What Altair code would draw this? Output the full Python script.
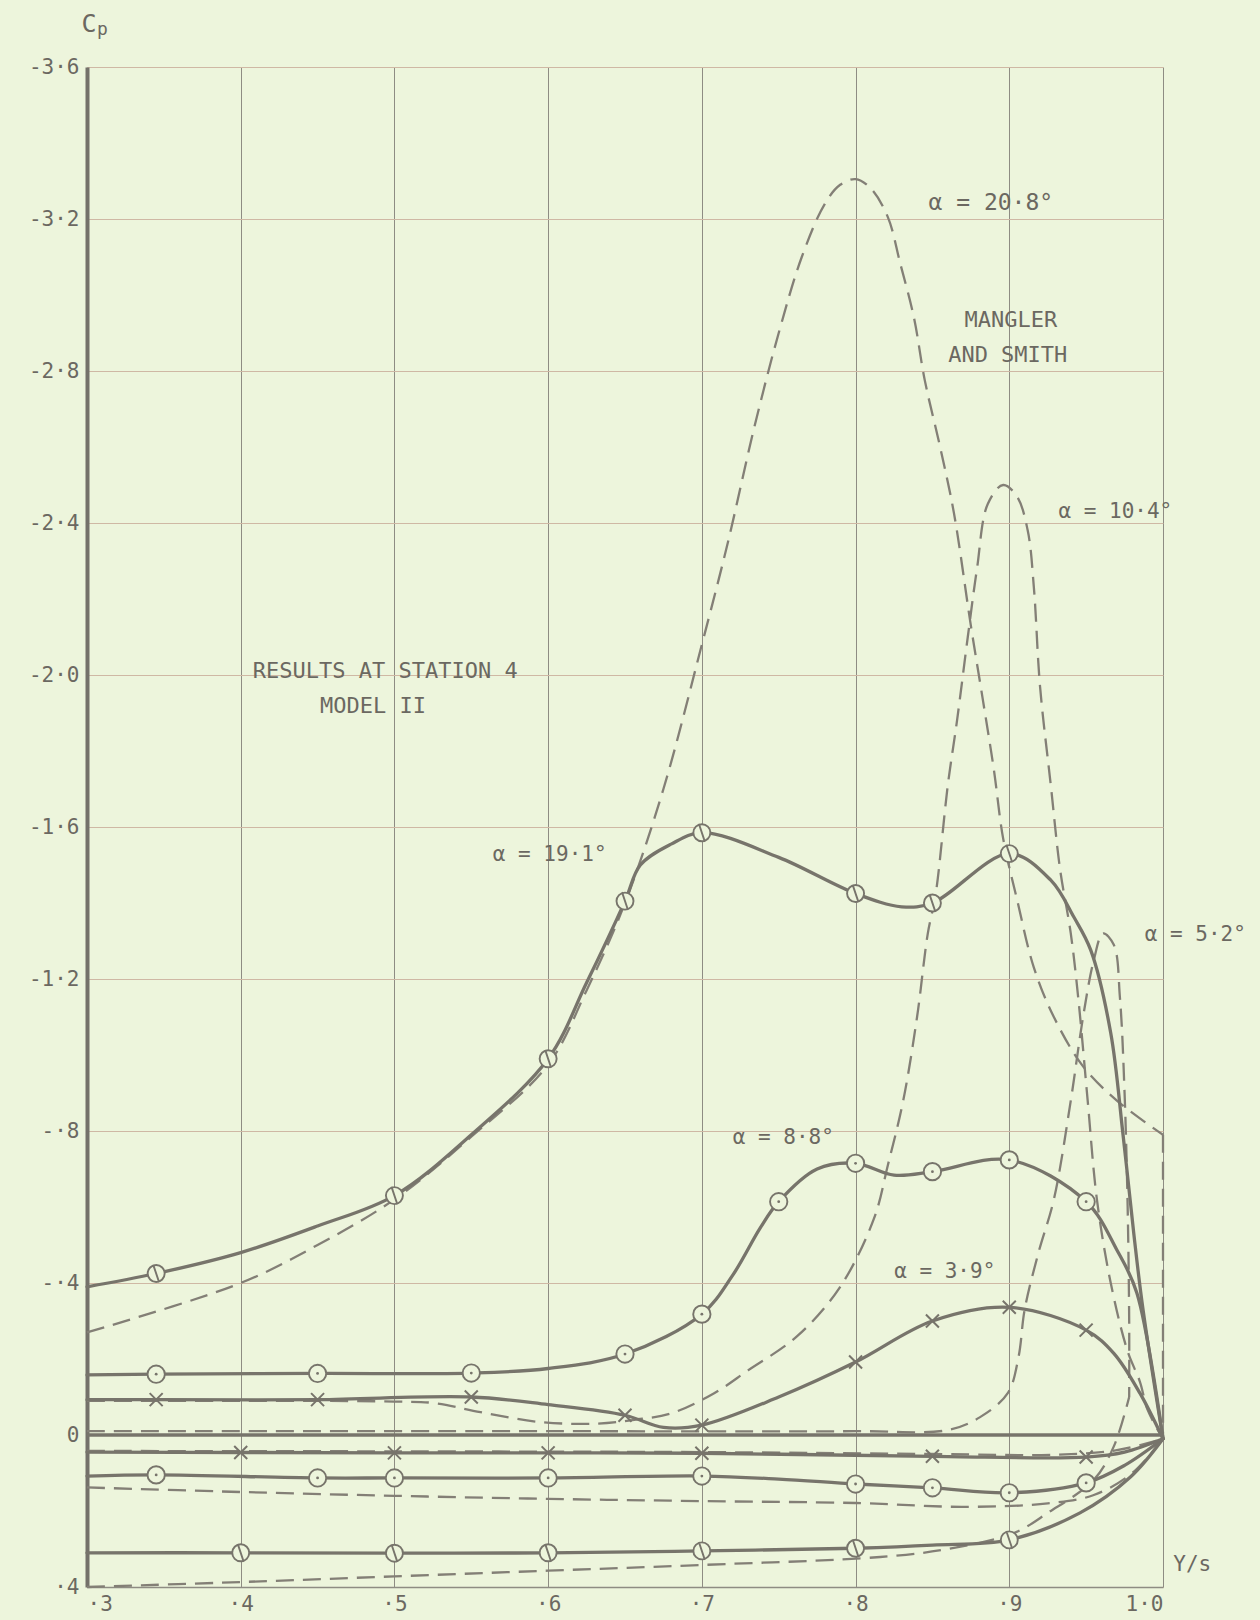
import altair as alt
import pandas as pd

BG = "#edf5dc"
INK = "#77746b"
TXT = "#6b6861"
FONT = "DejaVu Sans Mono"

# ---------------- axis ticks ----------------
x_tick_values = [0.3, 0.4, 0.5, 0.6, 0.7, 0.8, 0.9, 1.0]
x_tick_labels = ["·3", "·4", "·5", "·6", "·7", "·8", "·9", "1·0"]
y_tick_values = [-3.6, -3.2, -2.8, -2.4, -2.0, -1.6, -1.2, -0.8, -0.4, 0.0, 0.4]
y_tick_labels = ["-3·6", "-3·2", "-2·8", "-2·4", "-2·0", "-1·6", "-1·2", "-·8", "-·4", "0", "·4"]

# ---------------- experimental curves (solid) ----------------
# alpha = 19.1 deg, upper surface
e191u_x = [0.30, 0.345, 0.40, 0.45, 0.50, 0.55, 0.60, 0.625, 0.65, 0.66, 0.68, 0.70, 0.75, 0.80, 0.83, 0.85, 0.90, 0.927, 0.942, 0.953, 0.966, 0.974, 0.981, 0.987, 1.0]
e191u_y = [-0.39, -0.425, -0.48, -0.55, -0.63, -0.79, -0.99, -1.19, -1.405, -1.50, -1.555, -1.585, -1.52, -1.425, -1.39, -1.40, -1.53, -1.46, -1.363, -1.276, -1.058, -0.79, -0.53, -0.33, 0.01]
e191u_marks = [0.345, 0.50, 0.60, 0.65, 0.70, 0.80, 0.85, 0.90]

# alpha = 8.8 deg, upper surface
e88u_x = [0.30, 0.345, 0.45, 0.55, 0.60, 0.65, 0.70, 0.72, 0.738, 0.75, 0.775, 0.80, 0.825, 0.85, 0.90, 0.95, 0.97, 0.983, 1.0]
e88u_y = [-0.158, -0.16, -0.162, -0.163, -0.175, -0.213, -0.318, -0.42, -0.545, -0.614, -0.70, -0.715, -0.684, -0.693, -0.724, -0.614, -0.487, -0.374, 0.01]
e88u_marks = [0.345, 0.45, 0.55, 0.65, 0.70, 0.75, 0.80, 0.85, 0.90, 0.95]

# alpha = 3.9 deg, upper surface
e39u_x = [0.30, 0.345, 0.45, 0.55, 0.60, 0.65, 0.675, 0.70, 0.75, 0.80, 0.85, 0.90, 0.95, 0.968, 0.985, 1.0]
e39u_y = [-0.093, -0.093, -0.093, -0.10, -0.08, -0.052, -0.02, -0.026, -0.10, -0.192, -0.30, -0.336, -0.276, -0.215, -0.11, 0.01]
e39u_marks = [0.345, 0.45, 0.55, 0.65, 0.70, 0.80, 0.85, 0.90, 0.95]

# alpha = 3.9 deg, lower surface
e39l_x = [0.30, 0.40, 0.50, 0.60, 0.70, 0.85, 0.95, 0.975, 1.0]
e39l_y = [0.045, 0.046, 0.047, 0.047, 0.048, 0.056, 0.058, 0.045, 0.01]
e39l_marks = [0.40, 0.50, 0.60, 0.70, 0.85, 0.95]

# alpha = 8.8 deg, lower surface
e88l_x = [0.30, 0.345, 0.45, 0.50, 0.60, 0.70, 0.75, 0.80, 0.85, 0.90, 0.95, 0.975, 1.0]
e88l_y = [0.108, 0.105, 0.113, 0.113, 0.113, 0.108, 0.116, 0.129, 0.139, 0.152, 0.126, 0.08, 0.01]
e88l_marks = [0.345, 0.45, 0.50, 0.60, 0.70, 0.80, 0.85, 0.90, 0.95]

# alpha = 19.1 deg, lower surface
e191l_x = [0.30, 0.40, 0.50, 0.60, 0.70, 0.80, 0.85, 0.90, 0.946, 0.979, 1.0]
e191l_y = [0.31, 0.31, 0.311, 0.31, 0.305, 0.298, 0.29, 0.276, 0.205, 0.11, 0.01]
e191l_marks = [0.40, 0.50, 0.60, 0.70, 0.80, 0.90]

# zero reference line
zero_x = [0.30, 1.0]
zero_y = [0.0, 0.0]

# ---------------- Mangler and Smith theory (dashed) ----------------
t208u_x = [0.30, 0.40, 0.45, 0.50, 0.55, 0.60, 0.625, 0.65, 0.675, 0.70, 0.717, 0.734, 0.75, 0.765, 0.78, 0.79, 0.80, 0.81, 0.821, 0.829, 0.838, 0.845, 0.855, 0.864, 0.875, 0.883, 0.89, 0.896, 0.905, 0.916, 0.929, 0.948, 0.97, 1.0]
t208u_y = [-0.27, -0.40, -0.50, -0.62, -0.785, -0.975, -1.17, -1.40, -1.70, -2.08, -2.35, -2.65, -2.90, -3.10, -3.24, -3.29, -3.305, -3.28, -3.205, -3.084, -2.94, -2.776, -2.60, -2.426, -2.13, -1.93, -1.75, -1.57, -1.41, -1.23, -1.10, -0.97, -0.88, -0.79]
t208drop_x = [1.0, 1.0]
t208drop_y = [-0.79, 0.01]

t104u_x = [0.30, 0.40, 0.50, 0.526, 0.556, 0.595, 0.632, 0.656, 0.68, 0.708, 0.73, 0.762, 0.79, 0.812, 0.821, 0.831, 0.84, 0.847, 0.852, 0.86, 0.866, 0.873, 0.879, 0.886, 0.896, 0.905, 0.912, 0.916, 0.92, 0.927, 0.933, 0.94, 0.945, 0.951, 0.957, 0.966, 0.977, 0.985, 0.99, 1.0]
t104u_y = [-0.09, -0.09, -0.088, -0.084, -0.06, -0.034, -0.03, -0.04, -0.057, -0.11, -0.17, -0.26, -0.39, -0.57, -0.71, -0.88, -1.10, -1.32, -1.42, -1.71, -1.88, -2.10, -2.28, -2.45, -2.50, -2.47, -2.38, -2.23, -1.97, -1.71, -1.49, -1.32, -1.145, -0.88, -0.62, -0.40, -0.22, -0.14, -0.066, 0.01]

t52u_x = [0.30, 0.60, 0.80, 0.86, 0.881, 0.899, 0.906, 0.91, 0.919, 0.929, 0.94, 0.948, 0.955, 0.961, 0.968, 0.972, 0.975, 0.977, 0.978, 0.978]
t52u_y = [-0.01, -0.01, -0.01, -0.013, -0.047, -0.11, -0.205, -0.33, -0.48, -0.62, -0.88, -1.10, -1.25, -1.32, -1.29, -1.15, -0.90, -0.60, -0.30, -0.10]

t208l_x = [0.30, 0.40, 0.50, 0.60, 0.70, 0.816, 0.86, 0.903, 0.925, 0.955, 0.968, 0.978]
t208l_y = [0.40, 0.387, 0.372, 0.357, 0.342, 0.321, 0.30, 0.258, 0.205, 0.118, 0.03, -0.10]

t104l_x = [0.30, 0.40, 0.50, 0.60, 0.70, 0.80, 0.87, 0.925, 0.955, 0.98, 1.0]
t104l_y = [0.138, 0.15, 0.16, 0.168, 0.174, 0.179, 0.189, 0.18, 0.158, 0.10, 0.01]

t52l_x = [0.30, 0.50, 0.70, 0.85, 0.93, 0.97, 1.0]
t52l_y = [0.042, 0.043, 0.045, 0.05, 0.052, 0.04, 0.01]

# ---------------- annotations ----------------
note_text = ["α = 20·8°", "MANGLER", "AND SMITH", "α = 10·4°", "RESULTS AT STATION 4", "MODEL II",
             "α = 19·1°", "α = 8·8°", "α = 3·9°", "α = 5·2°", "Y/s", "C", "p"]
note_x = [0.888, 0.901, 0.899, 0.969, 0.494, 0.486, 0.601, 0.753, 0.858, 1.021, 1.019, 0.3013, 0.3100]
note_y = [-3.242, -2.934, -2.842, -2.429, -2.011, -1.918, -1.526, -0.782, -0.429, -1.316, 0.342, -3.713, -3.697]
note_size = [23, 22, 22, 21, 22, 22, 21, 21, 21, 21, 21, 25, 18]

# ---------------- assemble tables ----------------
rows = []
def add(name, xs, ys, kind):
    for i, (a, b) in enumerate(zip(xs, ys)):
        rows.append({"series": name, "kind": kind, "i": i, "x": a, "y": b})

add("e191u", e191u_x, e191u_y, "solid")
add("e88u", e88u_x, e88u_y, "solid")
add("e39u", e39u_x, e39u_y, "solid")
add("e39l", e39l_x, e39l_y, "solid")
add("e88l", e88l_x, e88l_y, "solid")
add("e191l", e191l_x, e191l_y, "solid")
add("zero", zero_x, zero_y, "solid_lin")
add("t208u", t208u_x, t208u_y, "dash")
add("t208drop", t208drop_x, t208drop_y, "dash_lin")
add("t104u", t104u_x, t104u_y, "dash")
add("t52u", t52u_x, t52u_y, "dash")
add("t208l", t208l_x, t208l_y, "dash")
add("t104l", t104l_x, t104l_y, "dash")
add("t52l", t52l_x, t52l_y, "dash")
lines = pd.DataFrame(rows)

mrows = []
def add_marks(xs, ys, marks, shape):
    for m in marks:
        j = min(range(len(xs)), key=lambda k: abs(xs[k] - m))
        mrows.append({"x": xs[j], "y": ys[j], "shape": shape})

add_marks(e191u_x, e191u_y, e191u_marks, "slash")
add_marks(e191l_x, e191l_y, e191l_marks, "slash")
add_marks(e88u_x, e88u_y, e88u_marks, "dot")
add_marks(e88l_x, e88l_y, e88l_marks, "dot")
add_marks(e39u_x, e39u_y, e39u_marks, "cross")
add_marks(e39l_x, e39l_y, e39l_marks, "cross")
marks = pd.DataFrame(mrows)

notes = pd.DataFrame({"t": note_text, "x": note_x, "y": note_y, "fs": note_size})


def label_expr(vals, labels):
    expr = "''"
    for v, l in reversed(list(zip(vals, labels))):
        expr = f"abs(datum.value - ({v})) < 1e-6 ? '{l}' : ({expr})"
    return expr


x_enc = alt.X("x:Q", scale=alt.Scale(domain=[0.3, 1.0], nice=False, zero=False),
              axis=alt.Axis(values=x_tick_values, labelExpr=label_expr(x_tick_values, x_tick_labels),
                            title=None, grid=True, gridColor="#8e8c83", gridWidth=1,
                            ticks=False, domainColor="#8e8c83", domainWidth=1.5,
                            labelFont=FONT, labelFontSize=21, labelColor=TXT, labelPadding=6))
y_enc = alt.Y("y:Q", scale=alt.Scale(domain=[-3.6, 0.4], reverse=True, nice=False, zero=False),
              axis=alt.Axis(values=y_tick_values, labelExpr=label_expr(y_tick_values, y_tick_labels),
                            title=None, grid=True, gridColor="#cfb8a4", gridWidth=1,
                            ticks=False, domainColor="#74716a", domainWidth=4,
                            labelFont=FONT, labelFontSize=21, labelColor=TXT, labelPadding=8))

base = alt.Chart(lines)

solid = base.transform_filter("datum.kind == 'solid'").mark_line(
    interpolate="catmull-rom", color=INK, strokeWidth=3.3, strokeCap="round"
).encode(x=x_enc, y=y_enc, detail="series:N", order="i:Q")

solid_lin = base.transform_filter("datum.kind == 'solid_lin'").mark_line(
    color=INK, strokeWidth=3.3
).encode(x=x_enc, y=y_enc, detail="series:N", order="i:Q")

dashed = base.transform_filter("datum.kind == 'dash'").mark_line(
    interpolate="catmull-rom", color="#837f76", strokeWidth=2.3, strokeDash=[18, 9]
).encode(x=x_enc, y=y_enc, detail="series:N", order="i:Q")

dashed_lin = base.transform_filter("datum.kind == 'dash_lin'").mark_line(
    color="#837f76", strokeWidth=2.3, strokeDash=[18, 9]
).encode(x=x_enc, y=y_enc, detail="series:N", order="i:Q")

mbase = alt.Chart(marks)
slash_shape = "M -1 0 A 1 1 0 1 1 1 0 A 1 1 0 1 1 -1 0 Z M -0.35 -1.05 L 0.35 1.05"
m_slash = mbase.transform_filter("datum.shape == 'slash'").mark_point(
    shape=slash_shape, fill=BG, fillOpacity=1, stroke=INK, strokeWidth=1.9, size=289, opacity=1
).encode(x=x_enc, y=y_enc)
m_circ = mbase.transform_filter("datum.shape == 'dot'").mark_point(
    shape="circle", fill=BG, fillOpacity=1, stroke=INK, strokeWidth=1.9, size=300, opacity=1
).encode(x=x_enc, y=y_enc)
m_dot = mbase.transform_filter("datum.shape == 'dot'").mark_point(
    shape="circle", filled=True, fill=INK, size=8, opacity=1
).encode(x=x_enc, y=y_enc)
m_cross = mbase.transform_filter("datum.shape == 'cross'").mark_point(
    shape="M -1 -1 L 1 1 M -1 1 L 1 -1", filled=False, stroke=INK, strokeWidth=2, size=169, opacity=1
).encode(x=x_enc, y=y_enc)

texts = alt.Chart(notes).mark_text(font=FONT, color=TXT, align="center", baseline="middle").encode(
    x=x_enc, y=y_enc, text="t:N", size=alt.Size("fs:Q", scale=None, legend=None)
)

chart = alt.layer(
    dashed, dashed_lin, solid, solid_lin, m_slash, m_circ, m_dot, m_cross, texts
).properties(
    width=1076, height=1520,
    padding={"left": 87, "top": 67, "right": 97, "bottom": 33},
    autosize=alt.AutoSizeParams(type="none"),
    background=BG,
).configure_view(stroke=None)

chart.save("out.html", embed_options={"renderer": "svg", "actions": False})
